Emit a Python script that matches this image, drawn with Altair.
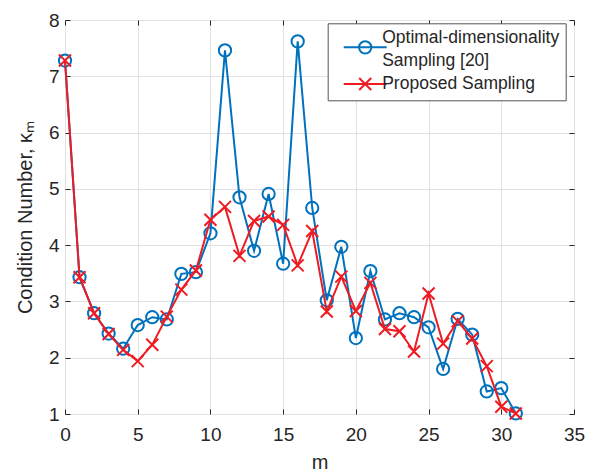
import altair as alt
import pandas as pd

# ---------------- data ----------------
m_values = list(range(32))
optimal = [7.28, 3.43, 2.79, 2.43, 2.16, 2.58, 2.72, 2.68, 3.49, 3.52, 4.21, 7.46,
           4.85, 3.90, 4.91, 3.67, 7.62, 4.66, 3.02, 3.97, 2.35, 3.54, 2.68, 2.79,
           2.72, 2.54, 1.80, 2.69, 2.41, 1.40, 1.46, 1.01]
proposed = [7.28, 3.43, 2.79, 2.42, 2.14, 1.94, 2.23, 2.73, 3.21, 3.55, 4.45, 4.68,
            3.81, 4.43, 4.51, 4.36, 3.64, 4.25, 2.82, 3.44, 2.83, 3.33, 2.51, 2.47,
            2.11, 3.14, 2.25, 2.65, 2.34, 1.85, 1.13, 1.01]
series_names = ["Optimal-dimensionality Sampling [20]", "Proposed Sampling"]
x_ticks = [0, 5, 10, 15, 20, 25, 30, 35]
y_ticks = [1, 2, 3, 4, 5, 6, 7, 8]

df = pd.DataFrame({
    "m": m_values + m_values,
    "value": optimal + proposed,
    "series": [series_names[0]] * len(optimal) + [series_names[1]] * len(proposed),
})

# ---------------- style ----------------
FONT = "Liberation Sans"
TXT = "#262626"
BLUE = "#0072BD"
RED = "#ED1C24"
GRID = "#e1e1e1"

x_scale = alt.Scale(domain=[0, 35], nice=False, zero=False)
y_scale = alt.Scale(domain=[1, 8], nice=False, zero=False)

x_axis = alt.Axis(values=x_ticks, title="m", grid=True, gridColor=GRID, gridWidth=1,
                  domain=False, ticks=True, tickSize=5, offset=-5, tickColor=TXT,
                  labelPadding=11, labelFont=FONT, labelFontSize=19, labelColor=TXT,
                  titleFont=FONT, titleFontSize=20, titleFontWeight="normal",
                  titleColor=TXT, titlePadding=8, labelFlush=False)
y_axis = alt.Axis(values=y_ticks, title="Condition Number, κₘ", grid=True, gridColor=GRID,
                  gridWidth=1, domain=False, ticks=True, tickSize=5, offset=-5,
                  tickColor=TXT, labelPadding=6, labelFont=FONT, labelFontSize=19,
                  labelColor=TXT, titleFont=FONT, titleFontSize=20,
                  titleFontWeight="normal", titleColor=TXT, titlePadding=13,
                  labelFlush=False)

X = alt.X("m:Q", scale=x_scale, axis=x_axis)
Y = alt.Y("value:Q", scale=y_scale, axis=y_axis)

base = alt.Chart(df)

def line_layer(name, color):
    return base.transform_filter(alt.datum.series == name).mark_line(
        color=color, strokeWidth=2).encode(x=X, y=Y)

blue_line = line_layer(series_names[0], BLUE)
red_line = line_layer(series_names[1], RED)

blue_pts = base.transform_filter(alt.datum.series == series_names[0]).mark_point(
    shape="circle", size=150, filled=False, color=BLUE, strokeWidth=2, opacity=1
).encode(x=X, y=Y)
red_pts = base.transform_filter(alt.datum.series == series_names[1]).mark_point(
    shape="M-1,-1L1,1M-1,1L1,-1", size=144, filled=False, color=RED, strokeWidth=2,
    opacity=1
).encode(x=X, y=Y)

# legend symbols: line with marker (path units = 6.5 px with symbolSize 169)
LEG_CIRCLE = ("M0.2,1.43H6.8M2.554,1.43A0.946,0.946 0 1,0 4.446,1.43"
              "A0.946,0.946 0 1,0 2.554,1.43")
LEG_CROSS = "M0.2,0H6.8M2.577,-0.923L4.423,0.923M2.577,0.923L4.423,-0.923"

legend_kw = dict(
    title=None, orient="none", legendX=262.7, legendY=3.3, padding=6,
    strokeColor="#555555", fillColor="white", labelFont=FONT, labelFontSize=17.5,
    labelColor=TXT, labelLimit=0, symbolSize=169, symbolStrokeWidth=2,
    labelOffset=31, rowPadding=3,
    labelExpr="datum.label == 'Optimal-dimensionality Sampling [20]' ? "
              "['Optimal-dimensionality', 'Sampling [20]'] : datum.label",
)

legend_layer = base.transform_filter("datum.m < 0").mark_point(
    filled=False, strokeWidth=2, opacity=1
).encode(
    x=X, y=Y,
    color=alt.Color("series:N", scale=alt.Scale(domain=series_names, range=[BLUE, RED]),
                    legend=alt.Legend(**legend_kw)),
    shape=alt.Shape("series:N", scale=alt.Scale(domain=series_names,
                                                range=[LEG_CIRCLE, LEG_CROSS]),
                    legend=alt.Legend(**legend_kw)),
)

inner = alt.layer(blue_line, blue_pts, red_line, red_pts, legend_layer)

# top / right inward ticks (box)
box = base.mark_point(opacity=0).encode(
    x=alt.X("m:Q", scale=x_scale,
            axis=alt.Axis(orient="top", values=x_ticks, labels=False, title=None,
                          grid=False, domain=False, ticks=True, tickSize=5, offset=-5,
                          tickColor=TXT)),
    y=alt.Y("value:Q", scale=y_scale,
            axis=alt.Axis(orient="right", values=y_ticks, labels=False, title=None,
                          grid=False, domain=False, ticks=True, tickSize=5, offset=-5,
                          tickColor=TXT)),
)

chart = alt.layer(inner, box).resolve_scale(x="independent", y="independent").properties(
    width=509, height=394,
    padding={"left": 57, "top": 12, "right": 15, "bottom": 59},
    autosize=alt.AutoSizeParams(type="none"),
    background="white",
).configure_view(stroke=TXT, strokeWidth=1).configure(
    style={"guide-label": {"lineHeight": 23}}
)

chart.save("out.html", embed_options={"renderer": "svg", "actions": False})
